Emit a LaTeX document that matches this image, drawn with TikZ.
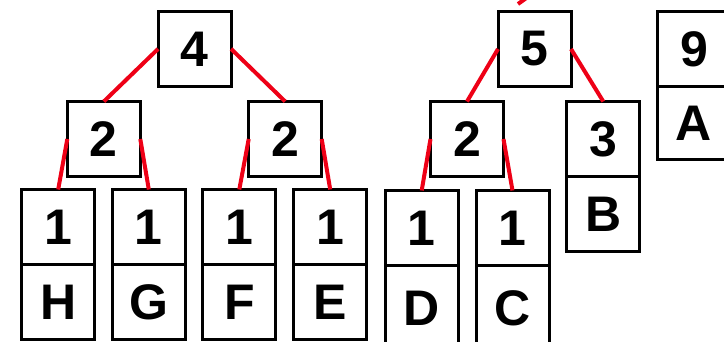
\documentclass[tikz,border=0pt]{standalone}
\usepackage{fontspec}
\setmainfont{Liberation Sans}
\usetikzlibrary{positioning}
\definecolor{linkred}{HTML}{EE0016}

\begin{document}
\begin{tikzpicture}[
  x=1pt,y=-1pt,
  box/.style={rectangle,draw=black,line width=3pt,fill=white,minimum width=73pt,
    minimum height=75pt,inner sep=0pt,outer sep=0pt,
    font=\fontsize{50}{60}\selectfont\bfseries},
  link/.style={linkred,line width=4pt},
]
\useasboundingbox (0,0) rectangle (724,342);

% Tree of weight 4
\node[box] (n4) at (194.6,48.9) {4};
\node[box] (n2a) at (103.8,139) {2};
\node[box] (n2b) at (285.2,139) {2};
\node[box] (w1) at (58.2,227) {1};
\node[box,below=0pt of w1] (lH) {H};
\node[box] (w2) at (148.8,227) {1};
\node[box,below=0pt of w2] (lG) {G};
\node[box] (w3) at (239.3,227) {1};
\node[box,below=0pt of w3] (lF) {F};
\node[box] (w4) at (330.2,227) {1};
\node[box,below=0pt of w4] (lE) {E};

\draw[link] (n4.west) -- (n2a.north);
\draw[link] (n4.east) -- (n2b.north);
\draw[link] (n2a.west) -- (w1.north);
\draw[link] (n2a.east) -- (w2.north);
\draw[link] (n2b.west) -- (w3.north);
\draw[link] (n2b.east) -- (w4.north);

% Tree of weight 5
\node[box] (n5) at (534.5,49) {5};
\node[box] (n2c) at (467,139) {2};
\node[box] (n3) at (603.3,139) {3};
\node[box,below=0pt of n3] (lB) {B};
\node[box] (w5) at (421.7,228) {1};
\node[box,below=0pt of w5,minimum height=86pt] (lD) {D};
\node[box] (w6) at (512.5,228) {1};
\node[box,below=0pt of w6,minimum height=86pt] (lC) {C};

\draw[link] (n5.west) -- (n2c.north);
\draw[link] (n5.east) -- (n3.north);
\draw[link] (n2c.west) -- (w5.north);
\draw[link] (n2c.east) -- (w6.north);

% edge coming from above
\coordinate (up1) at (518,4);
\coordinate (up2) at (532,-6);
\draw[link] (up1) -- (up2);

% single leaf
\node[box] (n9) at (694,49) {9};
\node[box,below=0pt of n9,minimum height=73pt] (lA) {A};

\end{tikzpicture}
\end{document}
